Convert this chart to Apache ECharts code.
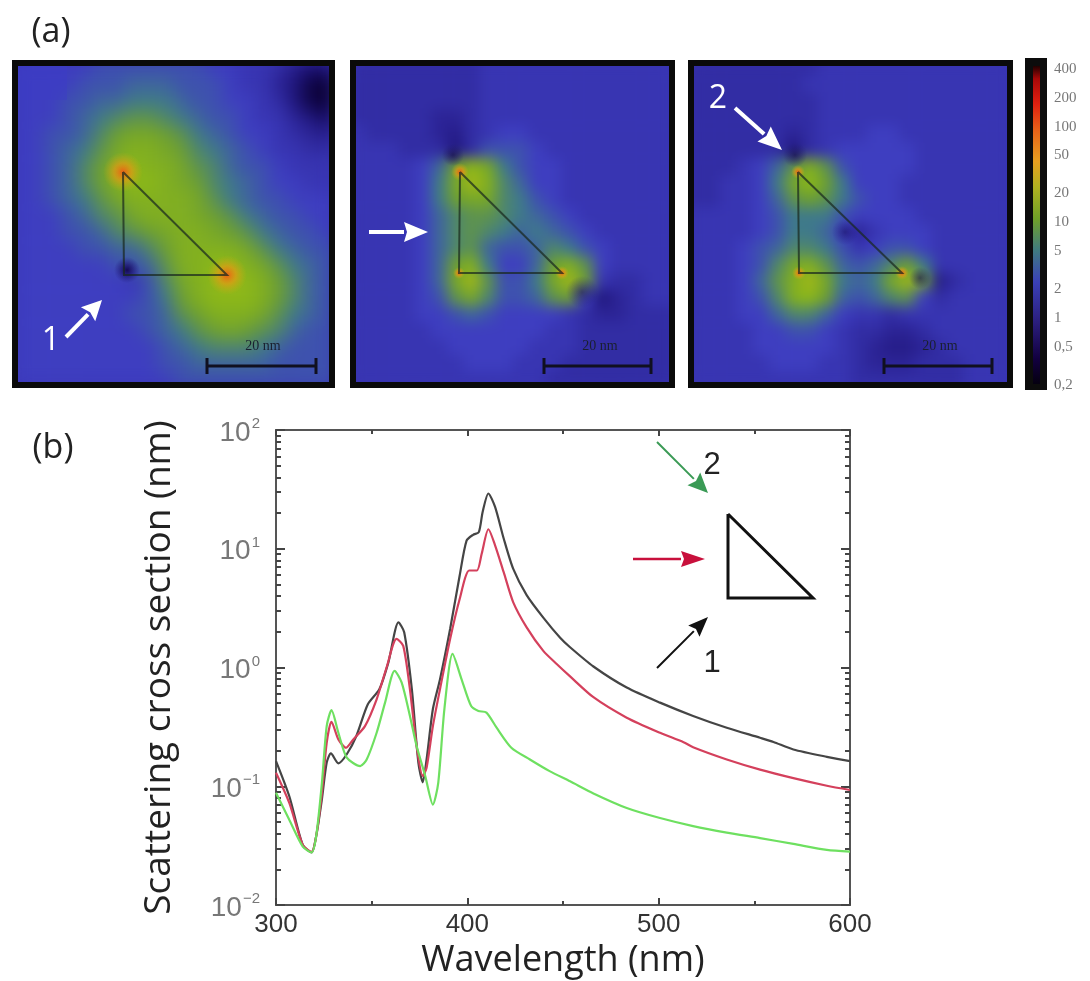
<!DOCTYPE html>
<html><head><meta charset="utf-8">
<script src="https://cdn.jsdelivr.net/npm/echarts@6/dist/echarts.min.js"></script>
<style>
html,body{margin:0;padding:0;background:#fff;width:1090px;height:981px;overflow:hidden}
.clip{position:absolute;overflow:hidden;background:#3a33b4}
.heat{position:absolute;left:0;top:0;width:100%;height:100%;filter:blur(7px)}
#h1{filter:blur(9px)}
#main{position:absolute;left:0;top:0;width:1090px;height:981px;filter:blur(0.7px)}
</style></head><body>
<div class="clip" style="left:12px;top:60px;width:323px;height:328px"><div class="heat" id="h1"></div></div>
<div class="clip" style="left:350px;top:60px;width:325px;height:328px"><div class="heat" id="h2"></div></div>
<div class="clip" style="left:688px;top:60px;width:325px;height:328px"><div class="heat" id="h3"></div></div>
<div id="main"></div>
<script>
// Spectra (b): wavelength in nm, scattering cross section in nm
const blackWl=[300,307,314,318.6,321,324,326.5,328.7,332.6,337,342,348,354,358.7,364,367,371,374.4,376.7,378.7,382,385.7,391,396,399.6,403,406,408,411,414.5,419,424,431,439.7,448.5,453.7,465.9,483.3,500.7,518,535.6,553,560,570.4,587.9,600];
const blackCs=[0.163,0.082,0.032,0.0277,0.038,0.078,0.158,0.189,0.156,0.186,0.265,0.49,0.656,1.10,2.40,1.98,0.656,0.158,0.108,0.168,0.447,0.794,2.11,5.96,11.7,13.1,13.8,20.4,29.2,22.5,12.2,6.76,4.07,2.63,1.78,1.48,1.02,0.678,0.506,0.391,0.311,0.256,0.236,0.204,0.177,0.163];
const redWl=[300,307,314,318.6,321,324,326.5,329,332.6,336.6,340.4,346.5,352.6,357.8,363,366.5,370,373.5,376.7,378.7,382,385.7,391,396,401,405,407.5,411,414.5,419,424,431,439.7,446.7,453.7,465.9,483.3,500.7,513,518,535.6,553,570.4,587.9,600];
const redCs=[0.130,0.072,0.032,0.028,0.038,0.088,0.232,0.348,0.248,0.211,0.248,0.321,0.54,1.0,1.74,1.52,0.656,0.218,0.122,0.143,0.321,0.656,1.74,3.78,6.56,6.56,9.08,14.6,10.7,6.35,3.54,2.18,1.38,1.07,0.841,0.562,0.378,0.282,0.235,0.213,0.168,0.138,0.117,0.101,0.093];
const greenWl=[300,307,314,318.6,321,324,326.5,329,332.6,337,344,347.4,352.6,357,362,365.7,370,373.5,378,382,384.8,388,392.3,397,402,405.8,410,415.3,423,432.7,443,453.7,465.9,483.3,500.7,518,535.6,553,570.4,587.9,600];
const greenCs=[0.088,0.052,0.031,0.0277,0.038,0.107,0.321,0.437,0.282,0.174,0.148,0.168,0.282,0.506,0.938,0.746,0.391,0.218,0.122,0.070,0.107,0.445,1.30,0.796,0.474,0.431,0.417,0.311,0.211,0.168,0.134,0.110,0.087,0.0656,0.054,0.0462,0.0407,0.0366,0.0327,0.0291,0.0282];
const xTicks=[300,400,500,600];
const yMajor=[0.01,0.1,1,10,100];
const yMinor=[0.02,0.03,0.04,0.05,0.06,0.07,0.08,0.09,0.2,0.3,0.4,0.5,0.6,0.7,0.8,0.9,2,3,4,5,6,7,8,9,20,30,40,50,60,70,80,90];
const barTicks=[400,200,100,50,20,10,5,2,1,0.5,0.2];
// Field maps (a): enhancement level in dB, 20 rows x 20 columns
const field1=[
[2,2,2,2,2,3,3,3,3,3,3,3,2,2,1,1,0,-2,-4,-4],
[2,2,2,2,3,3,3,4,4,4,3,3,3,2,1,1,-1,-3,-6,-7],
[2,2,2,3,3,4,4,5,5,5,4,3,3,2,2,1,0,-3,-6,-7],
[2,2,2,3,4,5,6,7,7,6,5,4,3,3,2,1,1,-1,-3,-5],
[2,2,3,3,4,6,8,9,9,8,7,5,4,3,2,2,1,0,-1,-2],
[2,2,3,4,5,7,9,10,10,9,8,6,5,4,3,2,1,1,0,0],
[2,2,3,4,6,8,10,11,10,10,9,7,6,4,3,3,2,1,1,1],
[2,2,3,4,6,8,10,11,11,10,9,8,6,5,4,3,2,2,1,1],
[2,2,3,4,5,7,9,10,10,10,10,9,7,5,4,3,3,2,2,2],
[2,2,2,3,4,6,7,9,10,10,10,9,8,7,5,4,3,3,2,2],
[2,2,2,3,3,4,6,7,8,9,10,10,9,8,7,5,4,3,3,2],
[2,2,2,2,3,3,4,4,6,8,10,10,10,10,9,7,5,4,3,3],
[2,2,2,2,2,2,3,3,4,7,10,10,11,11,10,9,7,5,4,3],
[2,2,2,2,2,2,2,1,3,6,9,10,11,12,11,10,8,6,4,3],
[2,2,2,2,2,2,2,2,3,5,8,10,11,11,11,10,8,6,4,3],
[2,2,2,2,2,2,2,3,3,4,7,8,10,10,10,9,7,5,4,3],
[2,2,2,2,2,2,2,2,3,4,5,7,8,9,8,7,6,4,3,3],
[2,2,2,2,2,2,2,2,2,3,4,5,6,6,6,5,4,3,3,3],
[2,2,2,2,2,2,2,2,2,3,3,4,4,4,4,4,3,3,3,3],
[2,2,2,2,2,2,2,2,2,2,3,3,3,3,3,3,3,3,3,3]];
const field2=[
[0,0,0,0,0,0,0,0,1,1,1,1,1,1,1,1,1,1,1,1],
[0,0,0,0,0,0,0,0,1,1,1,1,1,1,1,1,1,1,1,1],
[0,0,0,0,0,0,0,0,1,1,1,1,1,1,1,1,1,1,1,1],
[0,0,0,0,0,-1,-1,0,1,1,1,1,1,1,1,1,1,1,1,1],
[1,0,0,0,0,-1,-2,0,1,2,2,1,1,1,1,1,1,1,1,1],
[1,1,1,0,0,0,-3,0,3,3,3,2,1,1,1,1,1,1,1,1],
[1,1,1,1,2,4,8,11,9,5,3,2,2,1,1,1,1,1,1,1],
[1,1,1,1,2,5,9,12,10,6,4,2,2,1,1,1,1,1,1,1],
[1,1,1,1,2,5,8,9,9,6,5,3,2,1,1,1,1,1,1,1],
[1,1,1,1,2,4,6,7,7,6,5,4,3,2,1,1,1,1,1,1],
[1,1,1,1,2,4,6,7,6,5,4,5,4,3,2,1,1,1,1,1],
[1,1,1,1,2,4,6,7,4,3,3,4,6,5,3,2,1,1,1,1],
[1,1,1,1,2,4,8,10,5,2,2,4,8,10,7,2,1,1,1,1],
[1,1,1,1,2,4,9,12,7,3,3,5,9,12,8,1,0,0,1,1],
[1,1,1,1,2,3,7,9,6,3,3,4,7,8,2,-3,-1,0,1,1],
[1,1,1,1,2,2,3,4,3,2,2,2,2,1,0,-1,-1,0,0,0],
[1,1,1,1,1,2,2,2,2,2,2,2,1,1,0,0,0,0,0,0],
[1,1,1,1,1,1,2,2,2,2,2,1,1,1,0,0,0,0,0,0],
[1,1,1,1,1,1,1,2,2,2,1,1,1,0,0,0,0,0,0,0],
[1,1,1,1,1,1,1,1,1,1,1,1,0,0,0,0,0,0,0,0]];
const field3=[
[0,0,0,0,0,0,0,0,1,1,1,1,1,1,1,1,1,1,1,1],
[0,0,0,0,0,0,0,1,1,1,1,1,1,1,1,1,1,1,1,1],
[0,0,0,0,0,0,0,0,1,1,1,1,1,1,1,1,1,1,1,1],
[0,0,0,0,0,0,0,0,1,1,1,1,1,1,1,1,1,1,1,1],
[0,0,0,0,0,0,-1,0,1,1,1,2,2,1,1,1,1,1,1,1],
[0,0,0,0,0,0,-3,0,1,2,2,2,2,2,1,1,1,1,1,1],
[0,0,0,1,2,4,7,10,7,3,2,2,2,2,1,1,1,1,1,1],
[0,0,1,1,2,5,9,11,8,5,2,2,2,1,1,1,1,1,1,1],
[0,0,1,1,2,4,7,8,7,5,3,2,2,1,1,1,1,1,1,1],
[1,1,1,1,2,3,5,5,5,3,2,2,2,2,1,1,1,1,1,1],
[1,1,1,1,2,3,5,5,4,2,-1,1,2,2,2,1,1,1,1,1],
[1,1,1,2,3,4,6,6,5,3,1,2,3,3,2,1,1,1,1,1],
[1,1,1,2,3,6,9,10,7,4,3,4,6,8,5,1,1,1,1,1],
[1,1,1,2,4,7,10,12,9,5,4,5,9,12,8,-2,0,1,1,1],
[1,1,1,2,3,6,10,11,8,4,3,4,6,7,2,0,1,1,1,1],
[1,1,1,2,2,4,6,6,4,2,1,1,0,1,1,1,1,1,1,1],
[1,1,1,1,2,2,3,3,2,1,0,0,-1,-1,0,1,1,1,1,1],
[1,1,1,1,2,2,2,2,2,1,0,-1,-2,-2,-1,0,1,1,1,1],
[1,1,1,1,1,2,2,2,1,1,0,-1,-1,-1,0,0,0,1,1,1],
[1,1,1,1,1,1,1,1,1,1,0,0,0,0,0,0,0,1,1,1]];
const palette=['#0a0030','#1a1070','#2c2496','#3e3ec0','#3f7a8a','#6ea030','#8cb818','#c8b818','#ee8a18','#e83a10','#c81010','#700000'];
const idx=Array.from({length:20},(_,i)=>i);

function heat(id,rows){
  const c=echarts.init(document.getElementById(id));
  const data=[];
  rows.forEach((r,y)=>r.forEach((v,x)=>data.push([x,y,v])));
  c.setOption({
    animation:false,
    grid:{left:0,right:0,top:0,bottom:0},
    xAxis:{type:'category',data:idx,show:false},
    yAxis:{type:'category',data:idx,show:false,inverse:true},
    visualMap:{show:false,min:-7,max:26,dimension:2,inRange:{color:palette}},
    series:[{type:'heatmap',data:data,progressive:0}]
  });
}
heat('h1',field1);heat('h2',field2);heat('h3',field3);

// annotation helpers
function arrow(x1,y1,x2,y2,color,w,hl,hw){
  const a=Math.atan2(y2-y1,x2-x1),ca=Math.cos(a),sa=Math.sin(a);
  const bx=x2-hl*ca,by=y2-hl*sa;
  return [
    {type:'line',z:30,shape:{x1:x1,y1:y1,x2:bx,y2:by},style:{stroke:color,lineWidth:w}},
    {type:'polygon',z:30,shape:{points:[[x2,y2],[bx-hw*sa,by+hw*ca],[bx+3*ca,by+3*sa],[bx+hw*sa,by-hw*ca]]},style:{fill:color}}
  ];
}
function label(t,x,y,size,color,font,extra){
  return Object.assign({type:'text',z:31,x:x,y:y,style:{text:t,fontSize:size,fill:color,fontFamily:font,align:'center',verticalAlign:'middle'}},extra||{});
}
function frame(x,y,w,h){return {type:'rect',z:20,shape:{x:x+3,y:y+3,width:w-6,height:h-6},style:{fill:'none',stroke:'#0a0a0a',lineWidth:6}};}
function tri(p,color,w){return {type:'polyline',z:25,shape:{points:[p[0],p[1],p[2],p[0]]},style:{fill:'none',stroke:color,lineWidth:w,lineJoin:'miter'}};}
function glow(x,y,r,inner,mid,outer){return {type:'circle',z:12,shape:{cx:x,cy:y,r:r},style:{fill:new echarts.graphic.RadialGradient(0.5,0.5,0.5,[{offset:0,color:inner},{offset:0.45,color:mid},{offset:1,color:outer}])}};}
function scale(x1,x2,y,tx){return [
  {type:'line',z:25,shape:{x1:x1,y1:y,x2:x2,y2:y},style:{stroke:'#101020',lineWidth:3}},
  {type:'line',z:25,shape:{x1:x1,y1:y-8,x2:x1,y2:y+8},style:{stroke:'#101020',lineWidth:3}},
  {type:'line',z:25,shape:{x1:x2,y1:y-8,x2:x2,y2:y+8},style:{stroke:'#101020',lineWidth:3}},
  label('20 nm',tx,y-20,14,'#1a2030','"Liberation Serif"')
];}
const triColor='rgba(25,40,30,0.72)';
const sans='"Open Sans"';
function hotSpot(x,y,r){return glow(x,y,r,'rgba(238,90,20,0.95)','rgba(238,150,20,0.6)','rgba(200,180,20,0)');}
function darkSpot(x,y,r,a){return glow(x,y,r,'rgba(18,6,80,'+a+')','rgba(25,12,100,'+(a*0.6)+')','rgba(30,20,120,0)');}
const graphics=[].concat(
  [{type:'rect',z:10,shape:{x:17,y:65,width:50,height:35},style:{fill:'rgba(60,60,200,0.45)'}}],
  [hotSpot(123,172,20),hotSpot(227,275,20),darkSpot(127,270,13,0.95),
   hotSpot(460,172,9),hotSpot(459,273,6),hotSpot(562,273,7),darkSpot(453,155,11,0.6),darkSpot(582,292,16,0.45),
   hotSpot(798,172,7),hotSpot(799,273,7),hotSpot(902,273,7),darkSpot(795,155,12,0.55),darkSpot(920,278,11,0.55),darkSpot(845,232,13,0.45)],
  [frame(12,60,323,328),frame(350,60,325,328),frame(688,60,325,328)],
  [tri([[123,172],[124,275],[227,275]],triColor,2),tri([[460,172],[459,273],[562,273]],triColor,2),tri([[798,172],[799,273],[902,273]],triColor,2)],
  scale(207,316,366,263),scale(544,651,366,600),scale(884,992,366,940),
  arrow(66,337,102,300,'#fff',4,20,10),arrow(369,232,428,232,'#fff',4,24,10),arrow(735,108,782,150,'#fff',4,24,10),
  [label('1',51,341,32,'#fff',sans),label('2',718,99,32,'#fff',sans),
   label('(a)',51,32,34,'#222',sans),label('(b)',53,448,34,'#222',sans)],
  // colour bar
  [{type:'rect',z:20,shape:{x:1025,y:58,width:22,height:332},style:{fill:'#0c0c0c'}},
   {type:'rect',z:21,shape:{x:1033,y:66,width:7,height:318},style:{fill:new echarts.graphic.LinearGradient(0,0,0,1,[
     {offset:0,color:'#200000'},{offset:0.04,color:'#a80808'},{offset:0.12,color:'#e02010'},{offset:0.2,color:'#e86018'},{offset:0.3,color:'#e8a020'},{offset:0.38,color:'#b0b020'},{offset:0.48,color:'#70a028'},{offset:0.58,color:'#3f7a80'},{offset:0.68,color:'#3a40b8'},{offset:0.8,color:'#2c2080'},{offset:0.92,color:'#120040'},{offset:1,color:'#050010'}])}}],
  // inset of (b)
  arrow(657,442,708,493,'#3a9a55',2,20,9),arrow(633,559,705,559,'#c8103c',2.5,24,8),arrow(657,668,708,617,'#111',2,20,8),
  [label('2',712,465,31,'#222','"Liberation Sans"'),label('1',712,663,31,'#222','"Liberation Sans"'),
   tri([[728,514],[728,598],[813,598]],'#111',3)]
);
function sup(v){
  const e=Math.round(Math.log10(v));
  return '{b|10}{s|'+(e<0?'\u2212'+(-e):e)+'}';
}
const axisLine={show:true,lineStyle:{color:'#555',width:2}};
const yBase={type:'log',logBase:10,min:0.01,max:100,gridIndex:0,splitLine:{show:false},minorSplitLine:{show:false},axisLine:axisLine};
const chart=echarts.init(document.getElementById('main'));
chart.setOption({
  backgroundColor:'transparent',
  animation:false,
  grid:[{left:276,right:240,top:430,bottom:76,outerBoundsMode:'none'},{left:1025,width:22,top:69,height:316,outerBoundsMode:'none'}],
  xAxis:[
    {type:'value',gridIndex:0,position:'bottom',min:300,max:600,interval:100,splitLine:{show:false},axisLine:axisLine,
     axisTick:{inside:true,length:7,lineStyle:{color:'#444',width:2}},minorTick:{show:true,splitNumber:2,length:4,lineStyle:{color:'#444',width:2}},
     axisLabel:{fontSize:26,color:'#333',fontFamily:'"Liberation Sans"',margin:7,customValues:xTicks,formatter:v=>String(v)},
     name:'Wavelength (nm)',nameLocation:'middle',nameGap:38,nameTextStyle:{fontSize:36,color:'#222',fontFamily:sans}},
    {type:'value',gridIndex:0,position:'top',min:300,max:600,interval:100,splitLine:{show:false},axisLine:axisLine,axisLabel:{show:false},
     axisTick:{inside:true,length:6,lineStyle:{color:'#444',width:2}},minorTick:{show:true,splitNumber:2,length:4,lineStyle:{color:'#444',width:2}}},
    {type:'value',gridIndex:1,show:false,min:0,max:1}
  ],
  yAxis:[
    Object.assign({},yBase,{position:'left',
      axisTick:{inside:true,length:9,customValues:yMajor,lineStyle:{color:'#444',width:2}},
      axisLabel:{customValues:yMajor,margin:16,formatter:sup,rich:{
        b:{fontSize:28,color:'#777',fontFamily:'"Liberation Sans"',padding:[6,0,0,0]},
        s:{fontSize:15,color:'#777',fontFamily:'"Liberation Sans"',padding:[0,0,12,1]}}},
      name:'Scattering cross section (nm)',nameLocation:'middle',nameGap:98,nameTextStyle:{fontSize:37,color:'#222',fontFamily:sans}}),
    Object.assign({},yBase,{position:'left',axisLabel:{show:false},axisTick:{inside:true,length:5,customValues:yMinor,lineStyle:{color:'#444',width:2}}}),
    Object.assign({},yBase,{position:'right',axisLabel:{show:false},axisTick:{inside:true,length:9,customValues:yMajor,lineStyle:{color:'#444',width:2}}}),
    Object.assign({},yBase,{position:'right',axisLabel:{show:false},axisTick:{inside:true,length:5,customValues:yMinor,lineStyle:{color:'#444',width:2}}}),
    {type:'log',logBase:10,gridIndex:1,min:0.2,max:400,position:'right',splitLine:{show:false},axisLine:{show:false},
     axisTick:{show:false},
     axisLabel:{customValues:barTicks,margin:7,fontSize:15,color:'#777',fontFamily:'"Liberation Serif"',
       formatter:v=>String(v).replace('.',',')}}
  ],
  series:[
    {name:'1',type:'line',xAxisIndex:0,yAxisIndex:0,data:blackWl.map((w,i)=>[w,blackCs[i]]),smooth:0.25,symbol:'none',lineStyle:{color:'#454545',width:2.2}},
    {name:'Side',type:'line',xAxisIndex:0,yAxisIndex:0,data:redWl.map((w,i)=>[w,redCs[i]]),smooth:0.25,symbol:'none',lineStyle:{color:'#d4405c',width:2.2}},
    {name:'2',type:'line',xAxisIndex:0,yAxisIndex:0,data:greenWl.map((w,i)=>[w,greenCs[i]]),smooth:0.25,symbol:'none',lineStyle:{color:'#6ee060',width:2.2}}
  ],
  graphic:graphics
});
</script>
</body></html>
